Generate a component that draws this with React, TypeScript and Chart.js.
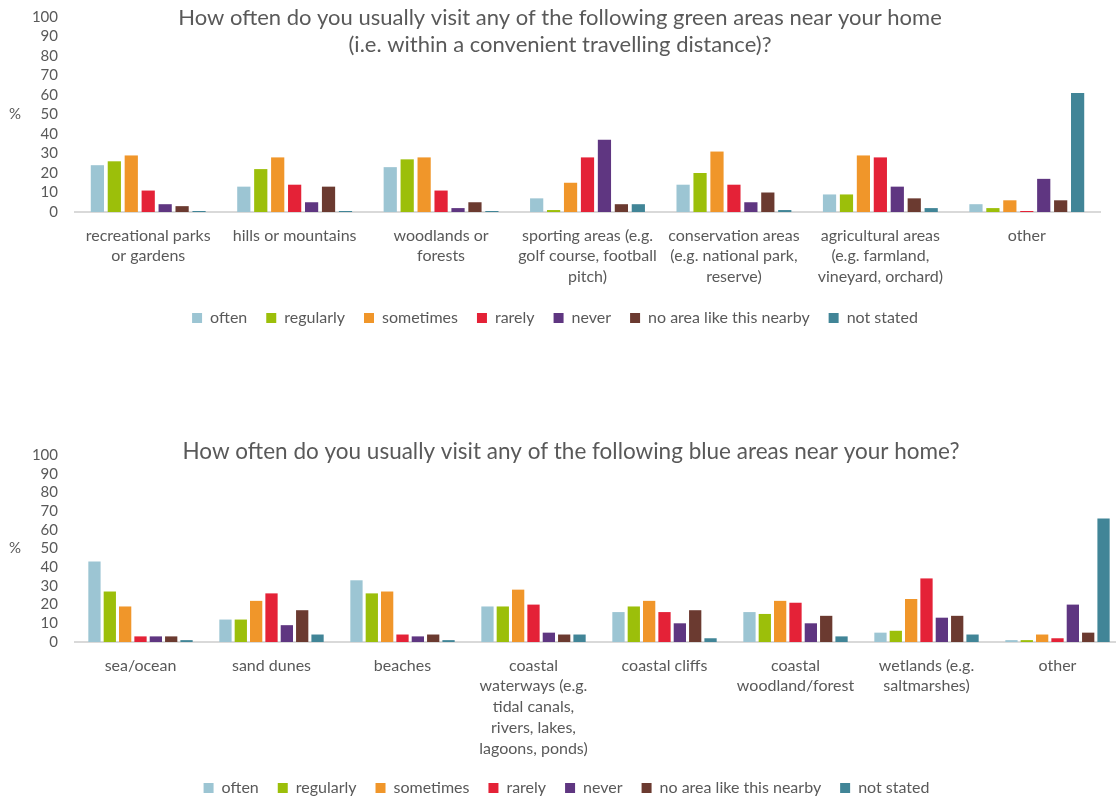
import React, { useEffect, useRef } from "react";
import { Chart, registerables } from "chart.js";

Chart.register(...registerables);

// ---------- Data ----------
const seriesNames = [
  "often",
  "regularly",
  "sometimes",
  "rarely",
  "never",
  "no area like this nearby",
  "not stated",
];
const seriesColors = [
  "#9CC5D3",
  "#9CBF0A",
  "#F0962A",
  "#E42237",
  "#5F3681",
  "#6B3A30",
  "#418597",
];

const greenTitle = [
  "How often do you usually visit any of the following green areas near your home",
  "(i.e. within a convenient travelling distance)?",
];
const greenCategories = [
  ["recreational parks", "or gardens"],
  ["hills or mountains"],
  ["woodlands or", "forests"],
  ["sporting areas (e.g.", "golf course, football", "pitch)"],
  ["conservation areas", "(e.g. national park,", "reserve)"],
  ["agricultural areas", "(e.g. farmland,", "vineyard, orchard)"],
  ["other"],
];
const greenOften = [24, 13, 23, 7, 14, 9, 4];
const greenRegularly = [26, 22, 27, 1, 20, 9, 2];
const greenSometimes = [29, 28, 28, 15, 31, 29, 6];
const greenRarely = [11, 14, 11, 28, 14, 28, 0.5];
const greenNever = [4, 5, 2, 37, 5, 13, 17];
const greenNoArea = [3, 13, 5, 4, 10, 7, 6];
const greenNotStated = [0.5, 0.5, 0.5, 4, 1, 2, 61];

const blueTitle = [
  "How often do you usually visit any of the following blue areas near your home?",
];
const blueCategories = [
  ["sea/ocean"],
  ["sand dunes"],
  ["beaches"],
  ["coastal", "waterways (e.g.", "tidal canals,", "rivers, lakes,", "lagoons, ponds)"],
  ["coastal cliffs"],
  ["coastal", "woodland/forest"],
  ["wetlands (e.g.", "saltmarshes)"],
  ["other"],
];
const blueOften = [43, 12, 33, 19, 16, 16, 5, 1];
const blueRegularly = [27, 12, 26, 19, 19, 15, 6, 1];
const blueSometimes = [19, 22, 27, 28, 22, 22, 23, 4];
const blueRarely = [3, 26, 4, 20, 16, 21, 34, 2];
const blueNever = [3, 9, 3, 5, 10, 10, 13, 20];
const blueNoArea = [3, 17, 4, 4, 17, 14, 14, 5];
const blueNotStated = [1, 4, 1, 4, 2, 3, 4, 66];

const yTicks = [0, 10, 20, 30, 40, 50, 60, 70, 80, 90, 100];

const TEXT = "#595959";
const FONT = "Lato, 'Open Sans', sans-serif";

// ---------- Plugin: title + "%" + legend shift ----------
const annotPlugin = {
  id: "annot",
  afterLayout(chart: any, _args: any, opts: any) {
    const lg = chart.legend;
    if (lg && opts.legendShift) {
      lg.left += opts.legendShift;
      lg.right += opts.legendShift;
    }
  },
  afterDraw(chart: any, _args: any, opts: any) {
    const ctx = chart.ctx;
    ctx.save();
    ctx.fillStyle = TEXT;
    ctx.textAlign = "center";
    ctx.textBaseline = "middle";
    ctx.font = `${opts.titleSize}px ${FONT}`;
    (opts.title as string[]).forEach((line, i) => {
      ctx.fillText(line, opts.titleX, opts.titleY + i * opts.titleLH);
    });
    ctx.font = `15px ${FONT}`;
    ctx.textAlign = "left";
    const a = chart.chartArea;
    ctx.fillText("%", 9, (a.top + a.bottom) / 2);
    ctx.restore();
  },
};

type Props = {
  top: number;
  width: number;
  height: number;
  padRight: number;
  categories: string[][];
  series: number[][];
  title: string[];
  titleX: number;
  titleY: number;
  titleSize: number;
  padTop: number;
  xAxisHeight: number;
  catPct: number;
  barPct: number;
  legendShift: number;
};

function BarChart(p: Props) {
  const ref = useRef<HTMLCanvasElement>(null);
  useEffect(() => {
    if (!ref.current) return;
    const chart = new Chart(ref.current, {
      type: "bar",
      data: {
        labels: p.categories,
        datasets: p.series.map((vals, i) => ({
          label: seriesNames[i],
          data: vals,
          backgroundColor: seriesColors[i],
          borderWidth: 0,
          categoryPercentage: p.catPct,
          barPercentage: p.barPct,
        })),
      },
      options: {
        responsive: false,
        animation: false,
        devicePixelRatio: 1,
        layout: {
          padding: { top: p.padTop, right: p.padRight, left: 0, bottom: 0 },
        },
        plugins: {
          title: { display: false },
          tooltip: { enabled: false },
          legend: {
            display: true,
            position: "bottom",
            labels: {
              boxWidth: 10,
              boxHeight: 10,
              padding: 19,
              color: TEXT,
              font: { family: FONT, size: 16 },
            },
          },
          annot: {
            title: p.title,
            titleX: p.titleX,
            titleY: p.titleY,
            titleLH: 27,
            titleSize: p.titleSize,
            legendShift: p.legendShift,
          },
        } as any,
        scales: {
          x: {
            grid: { display: false, drawTicks: false },
            border: { display: true, color: "#D9D9D9", width: 2 },
            ticks: {
              autoSkip: false,
              maxRotation: 0,
              minRotation: 0,
              padding: 13,
              color: TEXT,
              font: { family: FONT, size: 16, lineHeight: 1.3 },
            },
            afterFit: (s: any) => {
              s.height = p.xAxisHeight;
            },
          },
          y: {
            min: 0,
            max: 100,
            afterBuildTicks: (s: any) => {
              s.ticks = yTicks.map((v) => ({ value: v }));
            },
            grid: { display: false, drawTicks: false },
            border: { display: false },
            ticks: {
              autoSkip: false,
              padding: 17,
              color: TEXT,
              font: { family: FONT, size: 15 },
            },
            afterFit: (s: any) => {
              s.width = 75;
              s.paddingTop = 8;
              s.paddingBottom = 8;
            },
          },
        },
      },
      plugins: [annotPlugin],
    });
    return () => chart.destroy();
  }, []);
  return (
    <canvas
      ref={ref}
      width={p.width}
      height={p.height}
      style={{ position: "absolute", left: 0, top: p.top, display: "block" }}
    />
  );
}

export default function App() {
  return (
    <div
      style={{
        position: "absolute",
        left: 0,
        top: 0,
        width: 1116,
        height: 800,
        overflow: "hidden",
        background: "#fff",
      }}
    >
      <BarChart
        top={0}
        width={1116}
        height={336}
        padRight={16}
        categories={greenCategories}
        series={[
          greenOften,
          greenRegularly,
          greenSometimes,
          greenRarely,
          greenNever,
          greenNoArea,
          greenNotStated,
        ]}
        title={greenTitle}
        titleX={560}
        titleY={18}
        titleSize={22}
        padTop={17}
        xAxisHeight={79}
        catPct={0.81}
        barPct={0.78}
        legendShift={5}
      />
      <BarChart
        top={430}
        width={1134}
        height={376}
        padRight={11}
        categories={blueCategories}
        series={[
          blueOften,
          blueRegularly,
          blueSometimes,
          blueRarely,
          blueNever,
          blueNoArea,
          blueNotStated,
        ]}
        title={blueTitle}
        titleX={571}
        titleY={22}
        titleSize={22.5}
        padTop={25}
        xAxisHeight={119}
        catPct={0.82}
        barPct={0.8}
        legendShift={5}
      />
    </div>
  );
}
